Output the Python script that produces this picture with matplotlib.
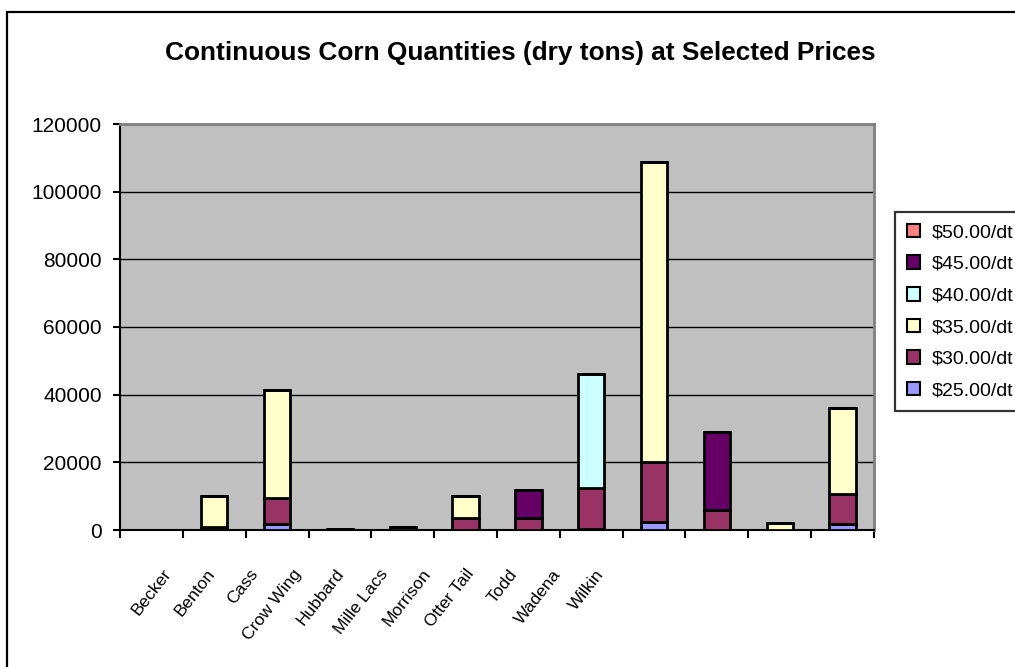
import numpy as np
import matplotlib
matplotlib.use("Agg")
import matplotlib.pyplot as plt
from matplotlib.patches import Rectangle

# data (dry tons), one list per price level
counties = ["Becker", "Benton", "Cass", "Crow Wing", "Hubbard", "Mille Lacs",
            "Morrison", "Otter Tail", "Todd", "Wadena", "Wilkin"]
q25 = [0, 1700, 0, 0, 0, 0, 400, 2400, 0, 0, 1700]
q30 = [1000, 7800, 400, 0, 3600, 3600, 11900, 17800, 5900, 0, 8900]
q35 = [9000, 31900, 0, 0, 6400, 0, 0, 88500, 0, 2100, 25500]
q40 = [0, 0, 0, 1000, 0, 0, 33700, 0, 0, 0, 0]
q45 = [0, 0, 0, 0, 0, 8200, 0, 0, 23000, 0, 0]
q50 = [0, 0, 0, 0, 0, 0, 0, 0, 0, 0, 0]
series_labels = ["$25.00/dt", "$30.00/dt", "$35.00/dt", "$40.00/dt", "$45.00/dt", "$50.00/dt"]
series_colors = ["#9999FF", "#993366", "#FFFFCC", "#CCFFFF", "#660066", "#FF8080"]
yticks = [0, 20000, 40000, 60000, 80000, 100000, 120000]

plt.rcParams["font.family"] = ["Liberation Sans", "DejaVu Sans"]

W, H = 1015, 667
fig = plt.figure(figsize=(W / 100, H / 100), dpi=100)
fig.patch.set_facecolor("white")

# outer chart frame (runs off the right/bottom edge like the original)
fig.patches.append(Rectangle((7 / W, -0.05), 1.1, 1 - 12 / H + 0.05,
                             transform=fig.transFigure, fill=False,
                             edgecolor="black", linewidth=1.6))

ax = fig.add_axes([120 / W, 137 / H, 754 / W, 406 / H])
ax.set_facecolor("#C0C0C0")

# first category slot is blank in the original
x = np.arange(1, len(counties) + 1)
bottom = np.zeros(len(counties))
series = [q25, q30, q35, q40, q45, q50]
handles = []
for vals, lab, col in zip(series, series_labels, series_colors):
    vals = np.array(vals, dtype=float)
    b = ax.bar(x, vals, 0.42, bottom=bottom, color=col, edgecolor="black",
               linewidth=2.0, label=lab, zorder=3)
    handles.append(b)
    bottom += vals

ax.set_xlim(-0.5, len(counties) + 0.5)
ax.set_ylim(0, 120000)
ax.set_yticks(yticks)
ax.set_yticklabels([str(v) for v in yticks], fontsize=15)
ax.yaxis.grid(True, color="black", linewidth=1.0, zorder=1)
ax.set_axisbelow(True)

ax.set_xticks(np.arange(-0.5, len(counties) + 1, 1.0))
ax.set_xticklabels([])
ax.tick_params(axis="x", direction="out", length=6, width=1.5, color="black")
ax.tick_params(axis="y", direction="out", length=5, width=1.5, color="black", pad=8)

for s in ["top", "right"]:
    ax.spines[s].set_color("#808080")
    ax.spines[s].set_linewidth(2.0)
for s in ["left", "bottom"]:
    ax.spines[s].set_color("black")
    ax.spines[s].set_linewidth(1.5)

# category labels, squeezed together as in the original picture
trans = ax.get_xaxis_transform()
for i, name in enumerate(counties):
    ax.text(0.18 + i * 0.6876, -0.09, name, transform=trans, rotation=52,
            ha="right", va="top", rotation_mode="anchor", fontsize=12.5)

fig.text(520 / W, 1 - 53 / H, "Continuous Corn Quantities (dry tons) at Selected Prices",
         ha="center", va="center", fontsize=18.9, fontweight="bold")

leg = fig.legend(handles[::-1], series_labels[::-1], loc="upper left",
                 bbox_to_anchor=(895 / W, 1 - 212 / H), fontsize=14,
                 frameon=True, fancybox=False, handlelength=0.7, handleheight=0.7,
                 handletextpad=0.6, labelspacing=0.72, borderpad=0.6,
                 borderaxespad=0)
leg.get_frame().set_edgecolor("black")
leg.get_frame().set_linewidth(1.6)
for p in leg.get_patches():
    p.set_linewidth(1.5)

fig.savefig("out.png", dpi=100)
